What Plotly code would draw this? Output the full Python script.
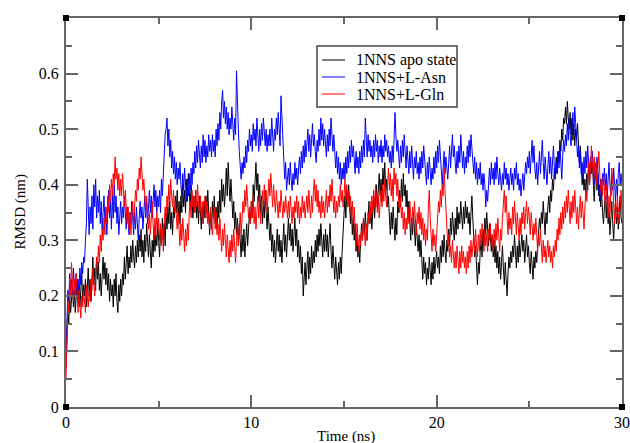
import plotly.graph_objects as go

# time axis (ns), 0.05 ns sampling
time_ns = [round(i * 0.05, 2) for i in range(601)]

apo_state = [
    0.07, 0.12, 0.17, 0.15, 0.20, 0.17, 0.19, 0.22, 0.18, 0.21, 0.17, 0.20, 0.23, 0.19, 0.22, 0.18, 0.21, 0.24, 0.19, 0.22,
    0.20, 0.23, 0.18, 0.22, 0.25, 0.20, 0.23, 0.19, 0.24, 0.27, 0.22, 0.25, 0.21, 0.27, 0.23, 0.26, 0.21, 0.24, 0.20, 0.23,
    0.27, 0.23, 0.26, 0.22, 0.25, 0.21, 0.24, 0.19, 0.23, 0.20, 0.22, 0.18, 0.23, 0.20, 0.24, 0.19, 0.17, 0.22, 0.19, 0.23,
    0.20, 0.24, 0.22, 0.27, 0.23, 0.26, 0.29, 0.24, 0.27, 0.25, 0.29, 0.26, 0.30, 0.27, 0.25, 0.29, 0.26, 0.30, 0.27, 0.31,
    0.28, 0.32, 0.27, 0.30, 0.26, 0.31, 0.28, 0.33, 0.29, 0.27, 0.31, 0.28, 0.25, 0.30, 0.27, 0.32, 0.28, 0.31, 0.29, 0.33,
    0.30, 0.27, 0.32, 0.29, 0.34, 0.30, 0.33, 0.29, 0.35, 0.32, 0.36, 0.33, 0.37, 0.32, 0.35, 0.31, 0.36, 0.34, 0.38, 0.35,
    0.39, 0.34, 0.37, 0.33, 0.38, 0.35, 0.40, 0.36, 0.39, 0.35, 0.41, 0.37, 0.42, 0.38, 0.36, 0.40, 0.37, 0.34, 0.38, 0.35,
    0.39, 0.34, 0.37, 0.33, 0.38, 0.35, 0.32, 0.36, 0.33, 0.37, 0.34, 0.38, 0.35, 0.39, 0.34, 0.31, 0.35, 0.32, 0.37, 0.34,
    0.38, 0.33, 0.36, 0.32, 0.37, 0.34, 0.39, 0.35, 0.41, 0.37, 0.40, 0.36, 0.39, 0.43, 0.38, 0.44, 0.40, 0.37, 0.41, 0.36,
    0.34, 0.37, 0.32, 0.35, 0.31, 0.34, 0.29, 0.33, 0.30, 0.27, 0.31, 0.28, 0.32, 0.27, 0.30, 0.33, 0.29, 0.32, 0.35, 0.33,
    0.37, 0.34, 0.40, 0.37, 0.42, 0.44, 0.39, 0.42, 0.37, 0.40, 0.35, 0.38, 0.33, 0.37, 0.34, 0.39, 0.35, 0.32, 0.36, 0.33,
    0.30, 0.33, 0.28, 0.31, 0.27, 0.30, 0.26, 0.29, 0.32, 0.28, 0.31, 0.27, 0.30, 0.26, 0.29, 0.33, 0.28, 0.31, 0.27, 0.30,
    0.34, 0.30, 0.33, 0.29, 0.32, 0.28, 0.31, 0.34, 0.29, 0.32, 0.27, 0.30, 0.26, 0.29, 0.24, 0.27, 0.20, 0.23, 0.26, 0.22,
    0.25, 0.28, 0.23, 0.27, 0.24, 0.29, 0.25, 0.28, 0.26, 0.30, 0.27, 0.31, 0.28, 0.32, 0.29, 0.33, 0.30, 0.27, 0.31, 0.28,
    0.32, 0.28, 0.31, 0.27, 0.30, 0.33, 0.28, 0.25, 0.29, 0.26, 0.23, 0.27, 0.24, 0.22, 0.26, 0.23, 0.27, 0.24, 0.28, 0.32,
    0.35, 0.38, 0.34, 0.39, 0.36, 0.40, 0.37, 0.33, 0.36, 0.31, 0.34, 0.30, 0.33, 0.28, 0.31, 0.27, 0.29, 0.26, 0.30, 0.33,
    0.30, 0.34, 0.31, 0.35, 0.32, 0.30, 0.34, 0.37, 0.33, 0.36, 0.32, 0.35, 0.38, 0.34, 0.37, 0.40, 0.36, 0.39, 0.42, 0.38,
    0.41, 0.37, 0.43, 0.40, 0.44, 0.39, 0.41, 0.36, 0.38, 0.34, 0.31, 0.35, 0.32, 0.36, 0.33, 0.30, 0.34, 0.31, 0.37, 0.35,
    0.39, 0.36, 0.41, 0.37, 0.42, 0.38, 0.40, 0.36, 0.39, 0.34, 0.37, 0.32, 0.30, 0.34, 0.31, 0.35, 0.32, 0.29, 0.33, 0.30,
    0.28, 0.31, 0.27, 0.30, 0.26, 0.23, 0.27, 0.24, 0.26, 0.22, 0.25, 0.23, 0.27, 0.24, 0.22, 0.26, 0.23, 0.27, 0.24, 0.26,
    0.28, 0.25, 0.27, 0.24, 0.29, 0.26, 0.30, 0.27, 0.31, 0.28, 0.26, 0.30, 0.28, 0.32, 0.29, 0.34, 0.31, 0.35, 0.32, 0.30,
    0.34, 0.31, 0.36, 0.32, 0.35, 0.33, 0.37, 0.34, 0.32, 0.36, 0.33, 0.37, 0.34, 0.36, 0.33, 0.35, 0.31, 0.35, 0.38, 0.34,
    0.30, 0.27, 0.29, 0.25, 0.22, 0.26, 0.24, 0.28, 0.30, 0.27, 0.32, 0.29, 0.34, 0.31, 0.35, 0.32, 0.29, 0.33, 0.30, 0.28,
    0.31, 0.27, 0.30, 0.26, 0.29, 0.25, 0.28, 0.24, 0.27, 0.23, 0.26, 0.29, 0.25, 0.22, 0.26, 0.23, 0.20, 0.24, 0.27, 0.25,
    0.28, 0.26, 0.29, 0.27, 0.31, 0.28, 0.25, 0.29, 0.26, 0.30, 0.27, 0.29, 0.31, 0.28, 0.30, 0.26, 0.29, 0.31, 0.27, 0.29,
    0.26, 0.24, 0.28, 0.25, 0.23, 0.27, 0.25, 0.28, 0.26, 0.29, 0.31, 0.34, 0.32, 0.35, 0.33, 0.37, 0.34, 0.31, 0.35, 0.33,
    0.36, 0.38, 0.35, 0.39, 0.37, 0.41, 0.39, 0.43, 0.41, 0.45, 0.42, 0.46, 0.44, 0.48, 0.46, 0.50, 0.48, 0.52, 0.51, 0.54,
    0.51, 0.55, 0.52, 0.50, 0.53, 0.49, 0.52, 0.48, 0.51, 0.47, 0.50, 0.48, 0.51, 0.46, 0.44, 0.47, 0.43, 0.40, 0.42, 0.39,
    0.41, 0.38, 0.42, 0.39, 0.44, 0.40, 0.45, 0.42, 0.44, 0.40, 0.37, 0.41, 0.43, 0.39, 0.42, 0.38, 0.40, 0.36, 0.39, 0.35,
    0.33, 0.36, 0.38, 0.34, 0.37, 0.33, 0.35, 0.31, 0.34, 0.37, 0.33, 0.30, 0.34, 0.37, 0.33, 0.36, 0.32, 0.35, 0.38, 0.34,
    0.33,
]

l_asn = [
    0.10, 0.15, 0.21, 0.19, 0.24, 0.21, 0.23, 0.20, 0.25, 0.22, 0.21, 0.24, 0.20, 0.23, 0.21, 0.25, 0.22, 0.26, 0.24, 0.27,
    0.26, 0.30, 0.33, 0.41, 0.34, 0.31, 0.36, 0.33, 0.38, 0.32, 0.40, 0.36, 0.41, 0.34, 0.38, 0.35, 0.39, 0.33, 0.37, 0.32,
    0.35, 0.38, 0.33, 0.36, 0.31, 0.35, 0.39, 0.34, 0.37, 0.32, 0.38, 0.34, 0.40, 0.35, 0.38, 0.33, 0.36, 0.31, 0.34, 0.37,
    0.33, 0.36, 0.34, 0.38, 0.35, 0.32, 0.36, 0.33, 0.31, 0.35, 0.33, 0.37, 0.34, 0.31, 0.35, 0.32, 0.36, 0.33, 0.30, 0.34,
    0.37, 0.34, 0.36, 0.32, 0.35, 0.38, 0.34, 0.37, 0.33, 0.36, 0.39, 0.35, 0.38, 0.34, 0.37, 0.40, 0.36, 0.39, 0.35, 0.38,
    0.36, 0.39, 0.35, 0.41, 0.38, 0.43, 0.46, 0.49, 0.50, 0.52, 0.47, 0.50, 0.45, 0.48, 0.43, 0.46, 0.42, 0.45, 0.41, 0.44,
    0.40, 0.43, 0.41, 0.44, 0.40, 0.38, 0.42, 0.39, 0.43, 0.40, 0.37, 0.41, 0.38, 0.42, 0.39, 0.43, 0.40, 0.44, 0.42, 0.46,
    0.43, 0.47, 0.44, 0.48, 0.45, 0.43, 0.47, 0.44, 0.49, 0.45, 0.48, 0.44, 0.47, 0.45, 0.49, 0.46, 0.48, 0.45, 0.49, 0.46,
    0.48, 0.45, 0.50, 0.47, 0.51, 0.48, 0.53, 0.50, 0.55, 0.57, 0.52, 0.55, 0.51, 0.54, 0.50, 0.53, 0.49, 0.52, 0.50, 0.54,
    0.51, 0.48, 0.52, 0.49, 0.605, 0.53, 0.50, 0.46, 0.43, 0.41, 0.44, 0.42, 0.45, 0.43, 0.47, 0.44, 0.48, 0.46, 0.50, 0.47,
    0.49, 0.46, 0.51, 0.48, 0.50, 0.47, 0.52, 0.48, 0.46, 0.50, 0.47, 0.51, 0.48, 0.52, 0.49, 0.47, 0.50, 0.46, 0.49, 0.47,
    0.50, 0.47, 0.52, 0.49, 0.46, 0.50, 0.48, 0.52, 0.49, 0.53, 0.50, 0.47, 0.56, 0.52, 0.49, 0.45, 0.41, 0.44, 0.39, 0.41,
    0.43, 0.40, 0.44, 0.41, 0.39, 0.42, 0.40, 0.44, 0.41, 0.43, 0.40, 0.43, 0.45, 0.42, 0.46, 0.43, 0.47, 0.44, 0.48, 0.45,
    0.47, 0.50, 0.46, 0.49, 0.45, 0.48, 0.51, 0.47, 0.49, 0.46, 0.44, 0.48, 0.46, 0.50, 0.47, 0.52, 0.48, 0.51, 0.47, 0.50,
    0.47, 0.45, 0.49, 0.46, 0.50, 0.47, 0.52, 0.48, 0.46, 0.49, 0.45, 0.43, 0.46, 0.42, 0.45, 0.41, 0.44, 0.40, 0.43, 0.41,
    0.44, 0.41, 0.45, 0.42, 0.46, 0.43, 0.47, 0.44, 0.48, 0.45, 0.47, 0.44, 0.42, 0.46, 0.43, 0.45, 0.42, 0.46, 0.43, 0.47,
    0.44, 0.48, 0.45, 0.52, 0.47, 0.45, 0.49, 0.46, 0.48, 0.45, 0.47, 0.44, 0.48, 0.45, 0.49, 0.46, 0.48, 0.44, 0.47, 0.45,
    0.48, 0.44, 0.47, 0.45, 0.49, 0.46, 0.48, 0.45, 0.47, 0.44, 0.46, 0.43, 0.47, 0.44, 0.48, 0.53, 0.49, 0.46, 0.48, 0.45,
    0.43, 0.47, 0.44, 0.48, 0.45, 0.49, 0.46, 0.43, 0.47, 0.44, 0.42, 0.46, 0.43, 0.47, 0.44, 0.41, 0.45, 0.43, 0.46, 0.42,
    0.44, 0.41, 0.45, 0.42, 0.46, 0.43, 0.47, 0.44, 0.42, 0.40, 0.44, 0.41, 0.45, 0.42, 0.40, 0.43, 0.41, 0.45, 0.42, 0.46,
    0.43, 0.47, 0.44, 0.48, 0.45, 0.42, 0.40, 0.43, 0.46, 0.42, 0.45, 0.43, 0.41, 0.44, 0.47, 0.43, 0.46, 0.49, 0.45, 0.47,
    0.44, 0.42, 0.46, 0.43, 0.47, 0.44, 0.49, 0.45, 0.43, 0.46, 0.42, 0.45, 0.43, 0.47, 0.44, 0.48, 0.45, 0.49, 0.46, 0.44,
    0.42, 0.45, 0.41, 0.44, 0.40, 0.43, 0.41, 0.44, 0.40, 0.42, 0.39, 0.42, 0.40, 0.36, 0.39, 0.37, 0.41, 0.43, 0.40, 0.44,
    0.41, 0.43, 0.40, 0.44, 0.41, 0.45, 0.42, 0.40, 0.43, 0.41, 0.39, 0.42, 0.40, 0.44, 0.41, 0.43, 0.40, 0.42, 0.39, 0.41,
    0.43, 0.40, 0.42, 0.39, 0.43, 0.41, 0.44, 0.40, 0.42, 0.39, 0.41, 0.38, 0.40, 0.42, 0.39, 0.41, 0.44, 0.42, 0.45, 0.43,
    0.46, 0.42, 0.45, 0.48, 0.44, 0.47, 0.43, 0.41, 0.44, 0.40, 0.43, 0.46, 0.42, 0.45, 0.48, 0.44, 0.41, 0.45, 0.42, 0.40,
    0.43, 0.46, 0.42, 0.45, 0.41, 0.44, 0.47, 0.43, 0.41, 0.44, 0.42, 0.46, 0.43, 0.47, 0.44, 0.41, 0.45, 0.48, 0.46, 0.49,
    0.47, 0.51, 0.48, 0.52, 0.49, 0.47, 0.50, 0.53, 0.49, 0.54, 0.51, 0.48, 0.45, 0.47, 0.43, 0.46, 0.42, 0.44, 0.41, 0.45,
    0.42, 0.46, 0.43, 0.47, 0.44, 0.41, 0.45, 0.42, 0.46, 0.43, 0.40, 0.44, 0.41, 0.45, 0.42, 0.39, 0.37, 0.41, 0.38, 0.42,
    0.40, 0.43, 0.39, 0.42, 0.37, 0.41, 0.44, 0.40, 0.38, 0.42, 0.39, 0.43, 0.40, 0.37, 0.41, 0.38, 0.42, 0.44, 0.40, 0.42,
    0.40,
]

l_gln = [
    0.05, 0.12, 0.19, 0.17, 0.23, 0.20, 0.26, 0.22, 0.19, 0.23, 0.20, 0.24, 0.19, 0.17, 0.21, 0.18, 0.16, 0.20, 0.18, 0.21,
    0.19, 0.17, 0.22, 0.19, 0.18, 0.21, 0.19, 0.23, 0.21, 0.25, 0.22, 0.20, 0.24, 0.27, 0.25, 0.29, 0.26, 0.31, 0.28, 0.32,
    0.30, 0.34, 0.31, 0.36, 0.33, 0.38, 0.35, 0.40, 0.37, 0.41, 0.38, 0.42, 0.40, 0.45, 0.41, 0.43, 0.39, 0.42, 0.38, 0.41,
    0.38, 0.42, 0.39, 0.36, 0.39, 0.35, 0.33, 0.36, 0.32, 0.35, 0.31, 0.34, 0.37, 0.33, 0.36, 0.39, 0.37, 0.41, 0.39, 0.43,
    0.41, 0.45, 0.42, 0.39, 0.41, 0.37, 0.35, 0.38, 0.34, 0.32, 0.35, 0.31, 0.34, 0.37, 0.33, 0.30, 0.34, 0.31, 0.35, 0.32,
    0.34, 0.30, 0.33, 0.29, 0.32, 0.28, 0.33, 0.36, 0.34, 0.38, 0.36, 0.40, 0.37, 0.41, 0.38, 0.36, 0.39, 0.35, 0.37, 0.34,
    0.32, 0.35, 0.31, 0.29, 0.33, 0.30, 0.34, 0.31, 0.28, 0.32, 0.29, 0.33, 0.30, 0.35, 0.37, 0.34, 0.39, 0.36, 0.38, 0.35,
    0.39, 0.36, 0.40, 0.37, 0.35, 0.38, 0.34, 0.37, 0.33, 0.36, 0.38, 0.34, 0.37, 0.33, 0.35, 0.32, 0.36, 0.33, 0.31, 0.34,
    0.36, 0.32, 0.35, 0.31, 0.33, 0.30, 0.34, 0.31, 0.28, 0.32, 0.29, 0.33, 0.30, 0.27, 0.31, 0.28, 0.26, 0.30, 0.27, 0.31,
    0.28, 0.32, 0.29, 0.26, 0.30, 0.33, 0.29, 0.32, 0.35, 0.31, 0.34, 0.37, 0.35, 0.39, 0.36, 0.40, 0.37, 0.34, 0.36, 0.33,
    0.37, 0.34, 0.38, 0.33, 0.36, 0.32, 0.35, 0.38, 0.34, 0.37, 0.33, 0.36, 0.39, 0.36, 0.40, 0.37, 0.39, 0.35, 0.38, 0.41,
    0.38, 0.42, 0.39, 0.36, 0.40, 0.37, 0.35, 0.39, 0.36, 0.34, 0.37, 0.35, 0.39, 0.36, 0.34, 0.37, 0.35, 0.38, 0.36, 0.34,
    0.37, 0.34, 0.38, 0.35, 0.33, 0.36, 0.34, 0.37, 0.35, 0.38, 0.34, 0.37, 0.33, 0.36, 0.34, 0.38, 0.35, 0.37, 0.34, 0.36,
    0.38, 0.35, 0.39, 0.36, 0.34, 0.38, 0.35, 0.39, 0.41, 0.37, 0.40, 0.36, 0.39, 0.35, 0.37, 0.34, 0.38, 0.35, 0.37, 0.34,
    0.36, 0.39, 0.35, 0.38, 0.36, 0.40, 0.37, 0.41, 0.38, 0.35, 0.38, 0.34, 0.37, 0.35, 0.38, 0.36, 0.40, 0.37, 0.39, 0.36,
    0.38, 0.41, 0.37, 0.40, 0.36, 0.39, 0.35, 0.38, 0.34, 0.37, 0.33, 0.36, 0.32, 0.29, 0.33, 0.30, 0.28, 0.31, 0.29, 0.32,
    0.30, 0.34, 0.31, 0.29, 0.33, 0.30, 0.35, 0.33, 0.37, 0.34, 0.38, 0.35, 0.39, 0.36, 0.40, 0.37, 0.35, 0.38, 0.34, 0.37,
    0.39, 0.36, 0.40, 0.37, 0.41, 0.38, 0.36, 0.40, 0.43, 0.39, 0.42, 0.38, 0.41, 0.37, 0.43, 0.40, 0.42, 0.38, 0.41, 0.37,
    0.35, 0.38, 0.34, 0.36, 0.32, 0.35, 0.31, 0.34, 0.32, 0.36, 0.33, 0.37, 0.34, 0.32, 0.36, 0.33, 0.37, 0.34, 0.31, 0.35,
    0.33, 0.36, 0.32, 0.35, 0.31, 0.34, 0.30, 0.33, 0.29, 0.32, 0.30, 0.36, 0.39, 0.34, 0.31, 0.28, 0.32, 0.29, 0.31, 0.28,
    0.31, 0.34, 0.37, 0.35, 0.39, 0.36, 0.40, 0.38, 0.43, 0.39, 0.36, 0.32, 0.29, 0.31, 0.27, 0.29, 0.26, 0.30, 0.27, 0.25,
    0.28, 0.25, 0.29, 0.26, 0.24, 0.28, 0.25, 0.29, 0.26, 0.28, 0.25, 0.27, 0.24, 0.28, 0.25, 0.29, 0.26, 0.30, 0.27, 0.29,
    0.31, 0.28, 0.32, 0.29, 0.27, 0.31, 0.28, 0.32, 0.29, 0.33, 0.30, 0.28, 0.32, 0.29, 0.31, 0.28, 0.32, 0.30, 0.33, 0.29,
    0.31, 0.28, 0.32, 0.29, 0.33, 0.30, 0.34, 0.31, 0.28, 0.32, 0.30, 0.34, 0.36, 0.39, 0.35, 0.38, 0.34, 0.31, 0.35, 0.32,
    0.34, 0.31, 0.36, 0.33, 0.37, 0.34, 0.31, 0.35, 0.32, 0.30, 0.34, 0.31, 0.35, 0.33, 0.36, 0.32, 0.35, 0.37, 0.33, 0.36,
    0.34, 0.31, 0.35, 0.32, 0.30, 0.33, 0.31, 0.34, 0.30, 0.28, 0.31, 0.29, 0.32, 0.28, 0.26, 0.30, 0.27, 0.29, 0.26, 0.28,
    0.30, 0.27, 0.29, 0.26, 0.28, 0.25, 0.29, 0.27, 0.30, 0.28, 0.32, 0.30, 0.34, 0.31, 0.35, 0.32, 0.36, 0.33, 0.37, 0.34,
    0.38, 0.35, 0.39, 0.36, 0.33, 0.37, 0.34, 0.38, 0.35, 0.39, 0.36, 0.33, 0.36, 0.32, 0.35, 0.38, 0.34, 0.37, 0.35, 0.32,
    0.36, 0.39, 0.37, 0.41, 0.44, 0.40, 0.43, 0.47, 0.44, 0.42, 0.45, 0.41, 0.44, 0.40, 0.43, 0.46, 0.42, 0.39, 0.41, 0.38,
    0.42, 0.39, 0.36, 0.40, 0.37, 0.34, 0.38, 0.35, 0.39, 0.43, 0.40, 0.36, 0.33, 0.37, 0.34, 0.38, 0.35, 0.33, 0.36, 0.39,
    0.35,
]

series_names = ["1NNS apo state", "1NNS+L-Asn", "1NNS+L-Gln"]
series_colors = ["#000000", "#0000ff", "#ff0000"]
series_values = [apo_state, l_asn, l_gln]

y_tickvals = [0, 0.1, 0.2, 0.3, 0.4, 0.5, 0.6]
y_ticktext = ["0", "0.1", "0.2", "0.3", "0.4", "0.5", "0.6"]
x_tickvals = [0, 10, 20, 30]
x_ticktext = ["0", "10", "20", "30"]

SERIF = "Liberation Serif"
AXIS_COL = "#666666"

# plot area in pixels (for converting pixel placements to paper coords)
W, H = 630, 443
ML, MR, MT, MB = 66, 8, 18, 36
PW, PH = W - ML - MR, H - MT - MB


def px(x):
    return (x - ML) / PW


def py(y):
    return (H - MB - y) / PH


fig = go.Figure()
for name, col, vals in zip(series_names, series_colors, series_values):
    fig.add_trace(go.Scatter(x=time_ns, y=vals, mode="lines", name=name,
                             line=dict(color=col, width=1), showlegend=False))

axis_common = dict(
    showline=True, linecolor=AXIS_COL, linewidth=2, mirror="ticks",
    ticks="inside", tickcolor=AXIS_COL, tickwidth=1.5, ticklen=12,
    showgrid=False, zeroline=False, automargin=False,
    ticklabeloverflow="allow",
    tickfont=dict(family=SERIF, size=16, color="#000"),
)

fig.update_xaxes(range=[0, 30], tickvals=x_tickvals, ticktext=x_ticktext,
                 minor=dict(ticks="inside", ticklen=6, tickcolor=AXIS_COL,
                            tickwidth=1.5, dtick=5, tick0=0),
                 ticklabelstandoff=0,
                 **axis_common)
fig.update_yaxes(range=[0, 0.7], tickvals=y_tickvals, ticktext=y_ticktext,
                 minor=dict(ticks="inside", ticklen=6, tickcolor=AXIS_COL,
                            tickwidth=1.5, dtick=0.05, tick0=0),
                 ticklabelstandoff=2,
                 **axis_common)

shapes = []
# corner handle squares (Grace style)
for cx in (0, 1):
    for cy in (0, 1):
        shapes.append(dict(type="rect", xref="paper", yref="paper",
                           xsizemode="pixel", ysizemode="pixel",
                           xanchor=cx, yanchor=cy, x0=-3, x1=3, y0=-3, y1=3,
                           fillcolor="#000", line=dict(width=0)))

# legend box
shapes.append(dict(type="rect", xref="paper", yref="paper",
                   x0=px(317), x1=px(457), y0=py(107), y1=py(46),
                   fillcolor="white", line=dict(color="#444", width=1.5), layer="above"))
annotations = []
row_y = [60, 77, 94]
for name, col, ry in zip(series_names, series_colors, row_y):
    shapes.append(dict(type="line", xref="paper", yref="paper",
                       x0=px(322), x1=px(345), y0=py(ry), y1=py(ry),
                       line=dict(color=col, width=1), layer="above"))
    annotations.append(dict(text=name, xref="paper", yref="paper",
                            x=px(354), y=py(ry), xanchor="left", yanchor="middle",
                            showarrow=False,
                            font=dict(family=SERIF, size=16, color="#000")))

# axis titles
annotations.append(dict(text="Time (ns)", xref="paper", yref="paper",
                        x=px(346), y=0, xanchor="center", yanchor="top", yshift=-19,
                        showarrow=False, font=dict(family=SERIF, size=15, color="#000")))
annotations.append(dict(text="RMSD (nm)", xref="paper", yref="paper",
                        x=0, y=0.5, xanchor="center", yanchor="middle", xshift=-46,
                        textangle=-90, showarrow=False,
                        font=dict(family=SERIF, size=15, color="#000")))

fig.update_layout(
    width=W, height=H,
    margin=dict(l=ML, r=MR, t=MT, b=MB),
    paper_bgcolor="white", plot_bgcolor="white",
    shapes=shapes, annotations=annotations,
    showlegend=False,
)

fig.write_html("out.html",
               config={"displayModeBar": False},
               post_script="document.body.style.margin='0px';"
                           "document.body.style.overflow='hidden';")
